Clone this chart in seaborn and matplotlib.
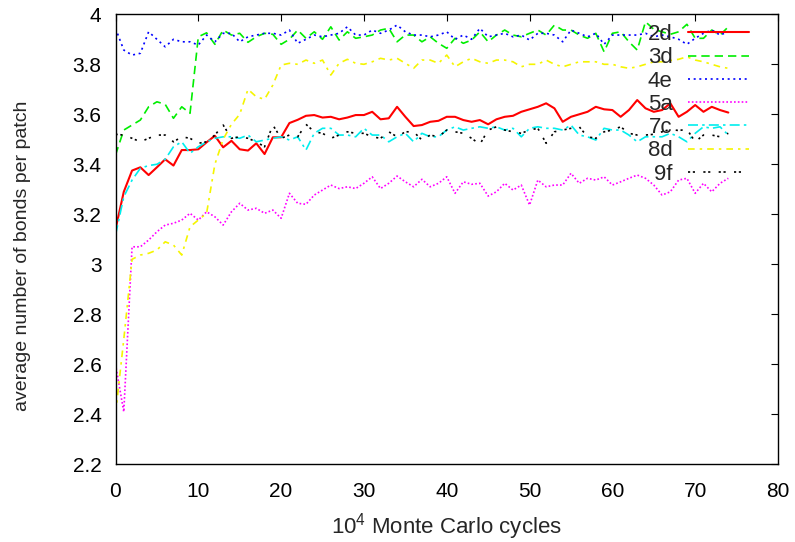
import numpy as np
import pandas as pd
import matplotlib
matplotlib.use("Agg")
import matplotlib.pyplot as plt
import seaborn as sns
from matplotlib.ticker import FuncFormatter

cycles = list(range(75))

s_2d = [3.14, 3.29, 3.375, 3.388, 3.357, 3.388, 3.42, 3.395, 3.457, 3.457,
        3.46, 3.488, 3.514, 3.468, 3.494, 3.46, 3.455, 3.484, 3.441, 3.508,
        3.508, 3.565, 3.578, 3.594, 3.597, 3.587, 3.59, 3.58, 3.587, 3.597,
        3.597, 3.61, 3.58, 3.584, 3.63, 3.59, 3.553, 3.557, 3.57, 3.574,
        3.59, 3.59, 3.577, 3.57, 3.577, 3.56, 3.58, 3.59, 3.594, 3.61,
        3.62, 3.63, 3.644, 3.624, 3.57, 3.59, 3.60, 3.61, 3.63, 3.62,
        3.617, 3.59, 3.617, 3.657, 3.624, 3.61, 3.617, 3.644, 3.59, 3.61,
        3.637, 3.61, 3.63, 3.617, 3.607]

s_3d = [3.437, 3.537, 3.557, 3.577, 3.63, 3.65, 3.64, 3.584, 3.63, 3.604,
        3.91, 3.926, 3.88, 3.937, 3.917, 3.924, 3.888, 3.91, 3.924, 3.92,
        3.88, 3.90, 3.937, 3.904, 3.93, 3.90, 3.95, 3.897, 3.93, 3.904,
        3.91, 3.917, 3.937, 3.944, 3.89, 3.917, 3.917, 3.89, 3.91, 3.884,
        3.864, 3.904, 3.884, 3.897, 3.93, 3.89, 3.917, 3.937, 3.917, 3.91,
        3.924, 3.937, 3.917, 3.957, 3.937, 3.937, 3.917, 3.904, 3.924, 3.85,
        3.924, 3.93, 3.89, 3.857, 3.97, 3.94, 3.93, 3.92, 3.93, 3.96,
        3.904, 3.904, 3.937, 3.917, 3.95]

s_4e = [3.944, 3.857, 3.837, 3.844, 3.93, 3.90, 3.87, 3.90, 3.89, 3.89,
        3.877, 3.917, 3.89, 3.924, 3.924, 3.89, 3.91, 3.917, 3.924, 3.924,
        3.917, 3.937, 3.884, 3.90, 3.917, 3.91, 3.917, 3.924, 3.95, 3.917,
        3.917, 3.937, 3.924, 3.937, 3.957, 3.93, 3.917, 3.917, 3.91, 3.917,
        3.93, 3.90, 3.917, 3.90, 3.944, 3.91, 3.917, 3.924, 3.91, 3.917,
        3.897, 3.924, 3.924, 3.917, 3.89, 3.937, 3.924, 3.91, 3.924, 3.88,
        3.917, 3.917, 3.917, 3.917, 3.924, 3.91, 3.917, 3.91, 3.90, 3.88,
        3.904, 3.924, 3.937, 3.917, 3.93]

s_5a = [2.60, 2.41, 3.07, 3.07, 3.097, 3.13, 3.157, 3.164, 3.177, 3.204,
        3.177, 3.21, 3.19, 3.157, 3.21, 3.244, 3.217, 3.224, 3.204, 3.217,
        3.184, 3.284, 3.244, 3.24, 3.277, 3.297, 3.317, 3.303, 3.31, 3.303,
        3.324, 3.35, 3.303, 3.324, 3.353, 3.33, 3.31, 3.34, 3.31, 3.324,
        3.35, 3.284, 3.33, 3.32, 3.324, 3.273, 3.29, 3.324, 3.297, 3.317,
        3.237, 3.337, 3.31, 3.317, 3.317, 3.364, 3.324, 3.344, 3.337, 3.35,
        3.317, 3.33, 3.344, 3.357, 3.344, 3.317, 3.277, 3.29, 3.337, 3.344,
        3.284, 3.324, 3.29, 3.324, 3.344]

s_7c = [3.117, 3.27, 3.337, 3.384, 3.395, 3.40, 3.42, 3.47, 3.49, 3.444,
        3.47, 3.49, 3.504, 3.51, 3.51, 3.504, 3.517, 3.49, 3.497, 3.504,
        3.51, 3.497, 3.51, 3.457, 3.524, 3.544, 3.544, 3.517, 3.517, 3.51,
        3.544, 3.517, 3.517, 3.49, 3.51, 3.524, 3.49, 3.524, 3.51, 3.51,
        3.537, 3.55, 3.537, 3.544, 3.55, 3.544, 3.55, 3.537, 3.544, 3.51,
        3.544, 3.55, 3.544, 3.544, 3.537, 3.557, 3.517, 3.51, 3.497, 3.544,
        3.537, 3.537, 3.517, 3.49, 3.51, 3.51, 3.51, 3.524, 3.51, 3.49,
        3.524, 3.55, 3.544, 3.55, 3.517]

s_8d = [2.40, 2.70, 3.02, 3.037, 3.044, 3.057, 3.09, 3.077, 3.037, 3.15,
        3.177, 3.204, 3.40, 3.50, 3.56, 3.60, 3.70, 3.67, 3.66, 3.717,
        3.797, 3.804, 3.80, 3.817, 3.804, 3.817, 3.757, 3.804, 3.82, 3.804,
        3.80, 3.81, 3.824, 3.817, 3.824, 3.804, 3.784, 3.817, 3.817, 3.804,
        3.837, 3.79, 3.81, 3.824, 3.81, 3.804, 3.817, 3.817, 3.81, 3.79,
        3.80, 3.80, 3.817, 3.80, 3.79, 3.80, 3.81, 3.81, 3.81, 3.80,
        3.80, 3.79, 3.784, 3.79, 3.80, 3.81, 3.81, 3.815, 3.82, 3.83,
        3.817, 3.81, 3.80, 3.79, 3.784]

s_9f = [3.52, 3.517, 3.504, 3.49, 3.504, 3.517, 3.517, 3.49, 3.51, 3.504,
        3.484, 3.49, 3.517, 3.557, 3.504, 3.51, 3.504, 3.49, 3.47, 3.557,
        3.504, 3.517, 3.51, 3.56, 3.53, 3.524, 3.504, 3.517, 3.53, 3.524,
        3.524, 3.51, 3.504, 3.53, 3.51, 3.53, 3.53, 3.497, 3.517, 3.51,
        3.537, 3.53, 3.524, 3.504, 3.48, 3.537, 3.55, 3.537, 3.53, 3.524,
        3.537, 3.544, 3.484, 3.53, 3.537, 3.544, 3.55, 3.51, 3.504, 3.53,
        3.537, 3.55, 3.524, 3.517, 3.517, 3.52, 3.53, 3.54, 3.535, 3.54,
        3.49, 3.517, 3.517, 3.51, 3.524]

labels = ["2d", "3d", "4e", "5a", "7c", "8d", "9f"]
series = [s_2d, s_3d, s_4e, s_5a, s_7c, s_8d, s_9f]
colors = ["#ff0000", "#00ee00", "#0000ff", "#ff00ff", "#00eeee", "#f5f500", "#000000"]
styles = ["-", (0, (5, 3)), (0, (1.2, 2.2)), (0, (1.0, 1.3)),
          (0, (6, 2.5, 1.5, 2.5)), (0, (4, 3, 1.5, 3)), (0, (1.3, 1.6, 1.3, 5))]
widths = [1.5, 1.2, 1.2, 1.2, 1.2, 1.2, 1.2]

xticks = [0, 10, 20, 30, 40, 50, 60, 70, 80]
yticks = [2.2, 2.4, 2.6, 2.8, 3.0, 3.2, 3.4, 3.6, 3.8, 4.0]

sns.set_style("white")
plt.rcParams["font.family"] = ["Liberation Sans", "DejaVu Sans"]
plt.rcParams["mathtext.fontset"] = "custom"
plt.rcParams["mathtext.rm"] = "Liberation Sans"
plt.rcParams["mathtext.it"] = "Liberation Sans"

fig = plt.figure(figsize=(7.95, 5.42), dpi=100)
ax = fig.add_axes([115.5 / 795, 1 - 464.3 / 542, (778 - 115.5) / 795, (464.3 - 14.3) / 542])

for lab, vals, col, ls, lw in zip(labels, series, colors, styles, widths):
    df = pd.DataFrame({"x": cycles, "y": vals})
    sns.lineplot(data=df, x="x", y="y", ax=ax, color=col, linestyle=ls,
                 linewidth=lw, label=lab)

ax.set_xlim(0, 80)
ax.set_ylim(2.2, 4.0)
ax.set_xticks(xticks)
ax.set_yticks(yticks)
ax.yaxis.set_major_formatter(FuncFormatter(lambda v, p: f"{v:g}"))
ax.tick_params(direction="in", length=5, width=0.8, top=True, right=True,
               labelsize=15, colors="black")
ax.tick_params(axis="y", pad=10)
ax.tick_params(axis="x", pad=13)
for sp in ax.spines.values():
    sp.set_visible(True)
    sp.set_color("black")
    sp.set_linewidth(1.0)

ax.set_xlabel(r"10$^{4}$ Monte Carlo cycles", fontsize=16)
ax.set_ylabel("average number of bonds per patch", fontsize=14)
ax.xaxis.set_label_coords(0.5, -0.103)
ax.yaxis.set_label_coords(-0.128, 0.463)

leg = ax.legend(loc="upper right", bbox_to_anchor=(0.956, 0.978), frameon=False,
                markerfirst=False, fontsize=16, handlelength=2.75,
                handletextpad=0.68, labelspacing=0.1, borderaxespad=0,
                borderpad=0)
try:
    for col in leg._legend_box.get_children()[1].get_children():
        col.align = "right"
except Exception:
    pass

fig.savefig("out.png", dpi=100)
